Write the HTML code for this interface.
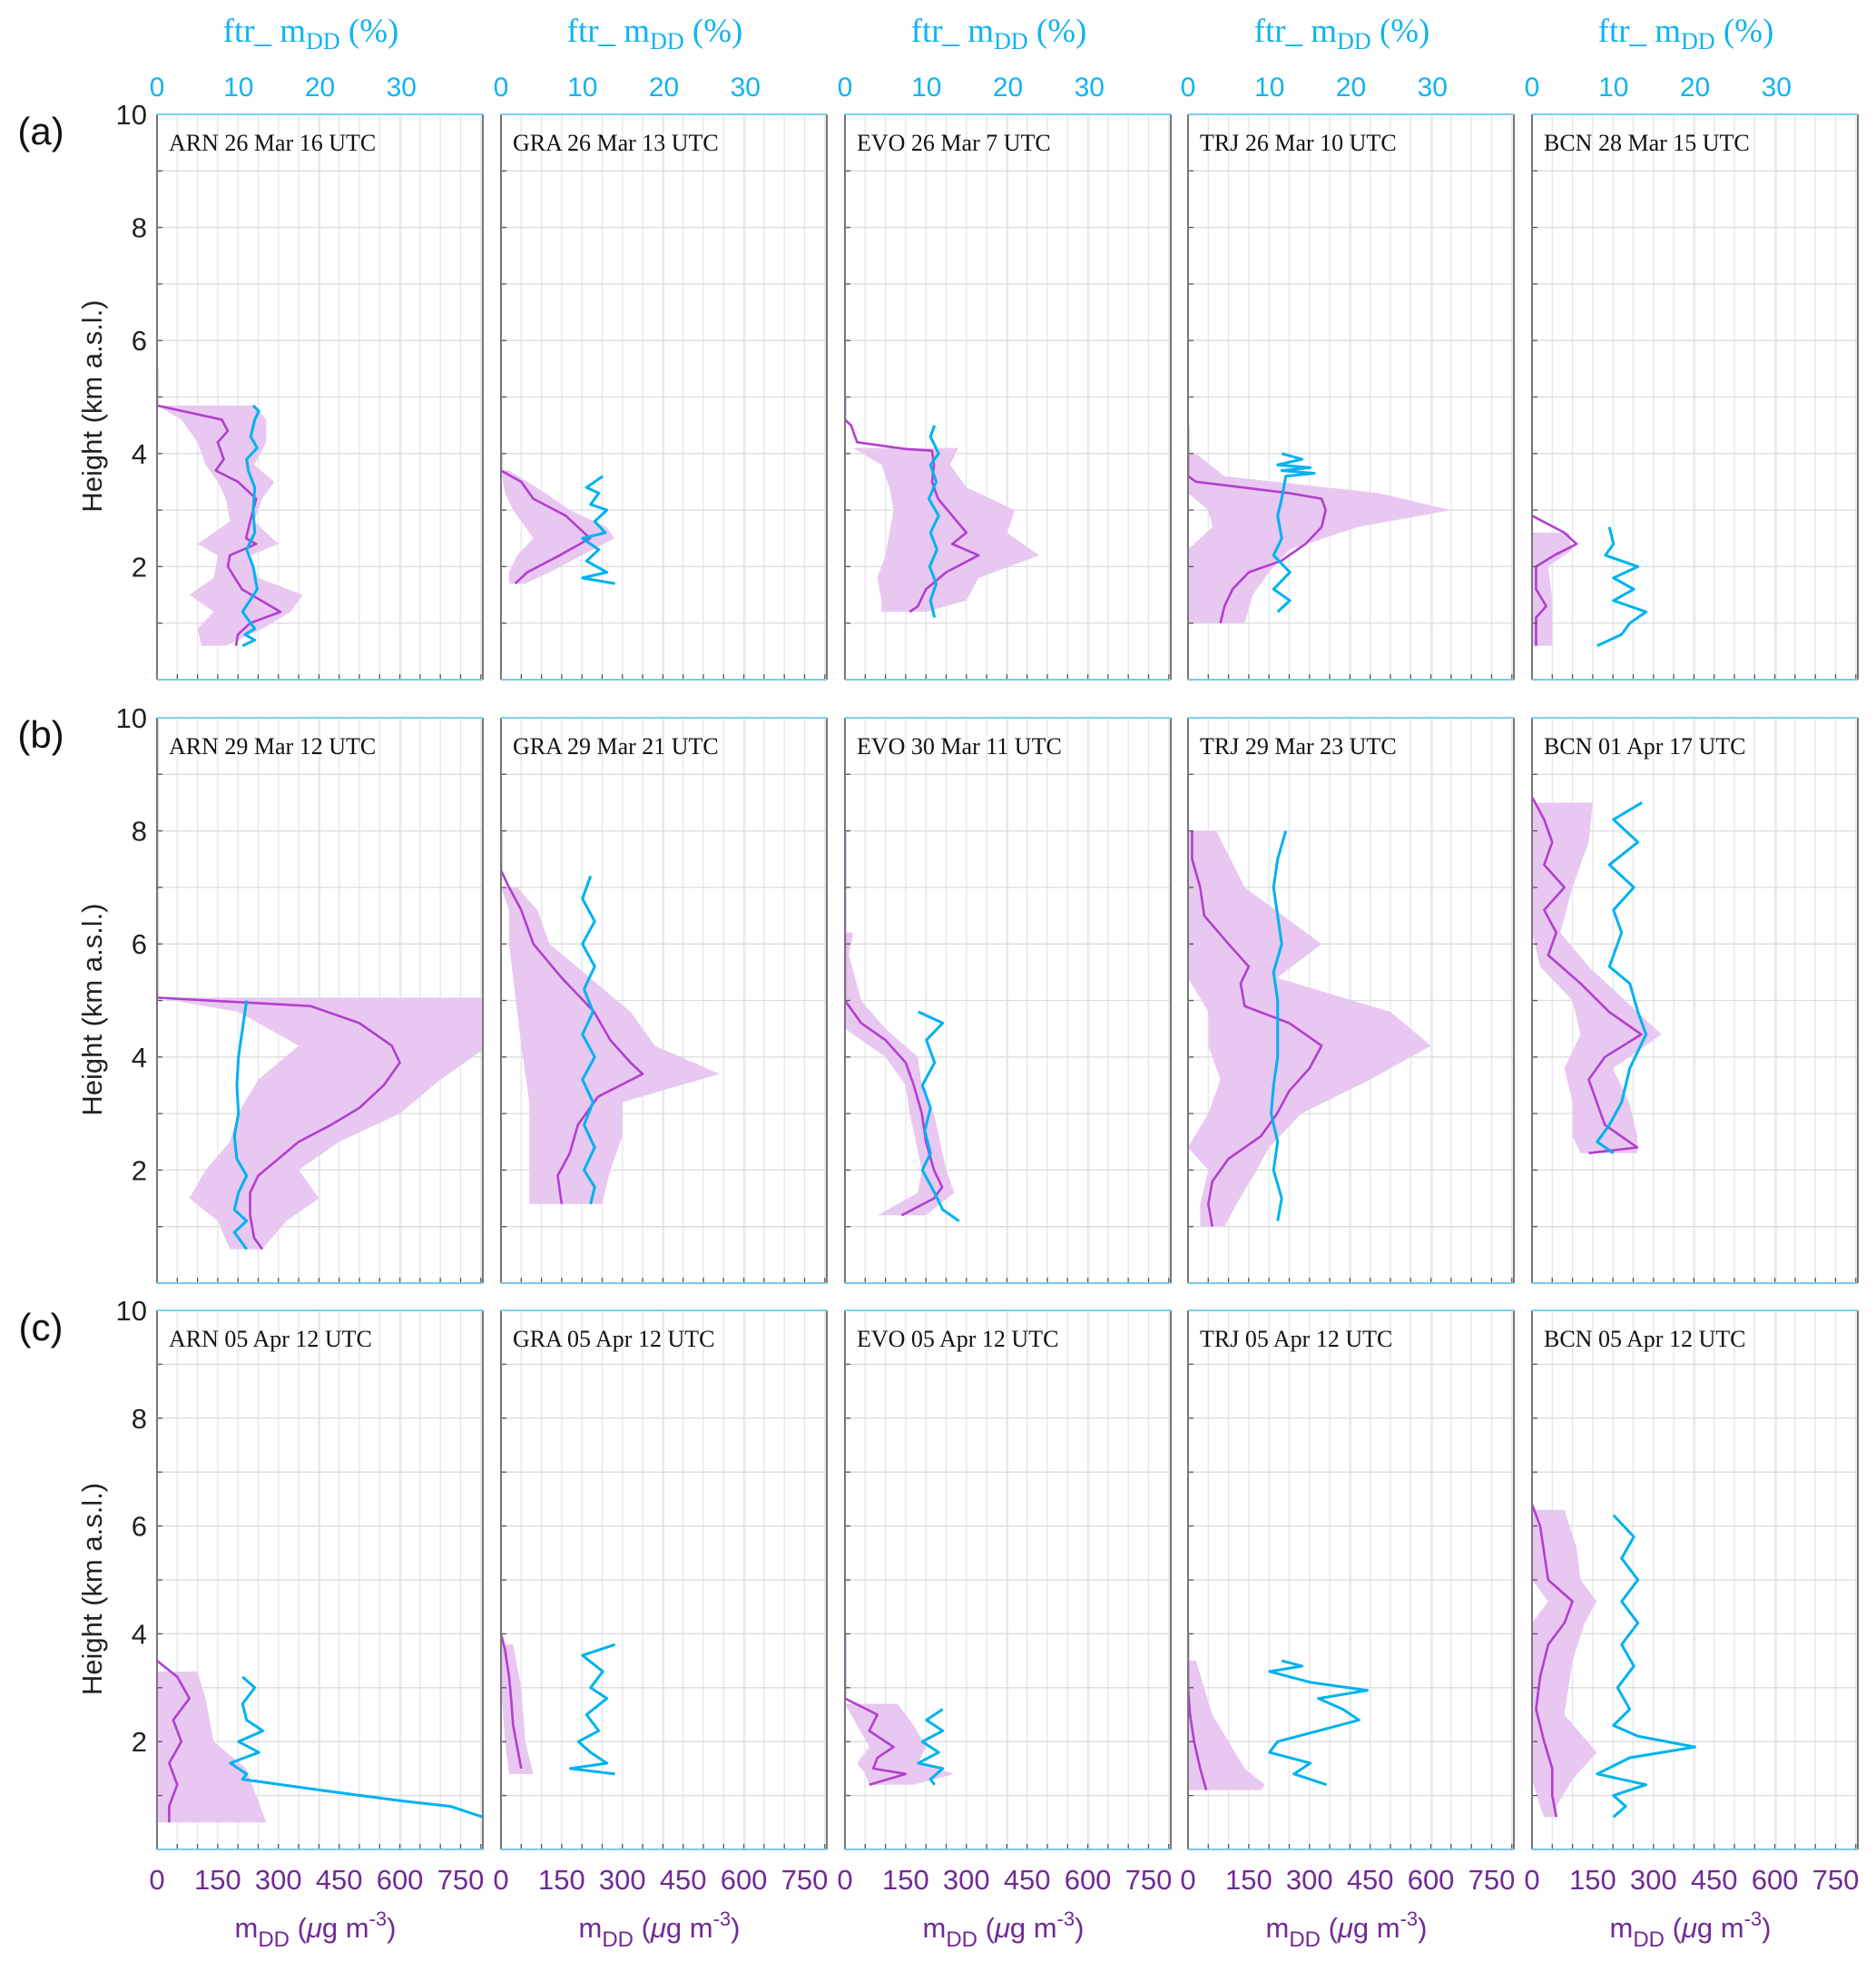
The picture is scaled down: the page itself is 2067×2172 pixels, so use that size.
<!DOCTYPE html>
<html><head><meta charset="utf-8"><style>
html,body{margin:0;padding:0;background:#fff;}
svg{display:block;}
</style></head><body>
<svg id="fig" xmlns="http://www.w3.org/2000/svg" width="2067" height="2172" viewBox="0 0 2067 2172"></svg>
<script>
// ---- data (height km, value) ----
const titles = [
 ["ARN 26 Mar 16 UTC","GRA 26 Mar 13 UTC","EVO 26 Mar 7 UTC","TRJ 26 Mar 10 UTC","BCN 28 Mar 15 UTC"],
 ["ARN 29 Mar 12 UTC","GRA 29 Mar 21 UTC","EVO 30 Mar 11 UTC","TRJ 29 Mar 23 UTC","BCN 01 Apr 17 UTC"],
 ["ARN 05 Apr 12 UTC","GRA 05 Apr 12 UTC","EVO 05 Apr 12 UTC","TRJ 05 Apr 12 UTC","BCN 05 Apr 12 UTC"]];
const rowLabels = ["(a)","(b)","(c)"];
const mddTicks = [0,150,300,450,600,750];
const ftrTicks = [0,10,20,30];
const heightTicks = [2,4,6,8,10];

// purple mass concentration profiles [height, mDD]
const mA = [
 [[5.5,0],[4.85,0],[4.6,160],[4.4,175],[4.2,150],[3.9,165],[3.7,145],[3.5,200],[3.2,245],[2.8,230],[2.5,220],[2.4,245],[2.2,180],[2.0,175],[1.6,210],[1.2,305],[1.0,230],[0.8,200],[0.6,195]],
 [[4.0,0],[3.7,0],[3.5,50],[3.2,80],[2.9,160],[2.6,205],[2.5,220],[2.2,145],[1.9,65],[1.7,35]],
 [[5.0,0],[4.6,0],[4.5,15],[4.2,30],[4.08,150],[4.05,215],[3.8,220],[3.5,215],[3.2,230],[2.9,265],[2.6,300],[2.4,265],[2.2,330],[1.9,250],[1.6,200],[1.3,180],[1.2,160]],
 [[4.5,0],[3.6,0],[3.5,20],[3.3,250],[3.2,330],[3.0,340],[2.7,330],[2.4,290],[2.1,230],[1.9,150],[1.6,110],[1.3,90],[1.0,80]],
 [[2.9,0],[2.6,80],[2.4,110],[2.2,55],[2.0,10],[1.6,10],[1.3,35],[1.1,10],[0.6,10]]];
const mB = [
 [[10,0],[5.1,0],[5.05,0],[4.9,380],[4.6,500],[4.2,580],[3.9,600],[3.5,560],[3.1,500],[2.8,430],[2.5,350],[2.2,300],[1.9,250],[1.6,230],[1.2,230],[0.8,240],[0.6,260]],
 [[8,0],[7.3,0],[7.0,20],[6.6,50],[6.0,80],[5.4,150],[4.8,230],[4.3,270],[3.9,320],[3.7,350],[3.3,240],[2.8,190],[2.3,170],[1.9,140],[1.4,150]],
 [[8,0],[5.0,0],[4.6,40],[4.3,100],[3.9,150],[3.5,170],[3.0,190],[2.5,200],[2.0,220],[1.7,240],[1.5,220],[1.2,140]],
 [[8,10],[7.5,10],[7.0,30],[6.5,40],[6.0,100],[5.6,150],[5.3,130],[4.9,140],[4.6,250],[4.2,330],[3.8,300],[3.4,250],[3.0,220],[2.6,180],[2.2,100],[1.8,60],[1.4,50],[1.0,60]],
 [[8.6,0],[8.2,30],[7.8,50],[7.4,30],[7.0,80],[6.6,30],[6.2,60],[5.8,40],[5.3,120],[4.8,190],[4.4,270],[4.0,180],[3.6,140],[3.2,160],[2.8,180],[2.4,260],[2.3,140]]];
const mC = [
 [[3.5,0],[3.2,50],[2.8,80],[2.4,40],[2.0,60],[1.6,30],[1.2,50],[0.8,30],[0.5,30]],
 [[4.0,0],[3.7,10],[3.2,20],[2.8,25],[2.3,30],[1.9,40],[1.5,50]],
 [[4.0,0],[2.8,0],[2.5,80],[2.2,60],[1.9,120],[1.7,80],[1.5,70],[1.4,150],[1.2,60]],
 [[4.0,0],[3.0,0],[2.5,5],[2.0,15],[1.5,30],[1.1,45]],
 [[6.4,0],[6.0,20],[5.5,30],[5.0,40],[4.6,100],[4.2,80],[3.8,40],[3.2,20],[2.6,10],[2.0,30],[1.5,50],[1.0,50],[0.6,60]]];

// shaded uncertainty [height, low, high] in mDD
const sA = [
 [[4.85,0,240],[4.6,60,270],[4.2,100,270],[3.8,120,240],[3.5,150,290],[3.2,170,260],[2.8,180,240],[2.4,100,300],[2.2,150,230],[1.8,140,250],[1.5,80,360],[1.2,140,330],[0.9,100,260],[0.6,110,170]],
 [[3.7,0,20],[3.3,10,110],[3.0,30,170],[2.7,60,260],[2.5,80,280],[2.2,40,200],[1.9,20,120],[1.7,20,60]],
 [[4.1,20,280],[3.8,90,260],[3.4,110,300],[3.0,120,420],[2.6,110,400],[2.2,100,480],[1.8,80,330],[1.4,90,300],[1.2,90,200]],
 [[4.0,0,20],[3.6,0,90],[3.3,0,470],[3.0,50,650],[2.7,60,420],[2.3,0,250],[1.9,0,200],[1.5,0,160],[1.0,0,140]],
 [[2.6,0,90],[2.3,0,100],[2.0,0,40],[1.4,0,50],[0.6,0,50]]];
const sB = [
 [[5.05,0,820],[4.8,200,820],[4.2,350,820],[3.6,250,700],[3.0,200,600],[2.5,180,450],[2.0,120,350],[1.5,80,400],[1.1,150,320],[0.6,180,260]],
 [[7.0,0,40],[6.6,20,90],[6.0,20,120],[5.4,30,220],[4.8,40,320],[4.2,50,380],[3.7,60,540],[3.2,70,300],[2.6,70,300],[2.0,70,270],[1.4,70,250]],
 [[6.2,0,20],[5.8,0,10],[5.0,0,40],[4.5,0,100],[4.0,100,180],[3.5,150,190],[3.0,160,220],[2.0,190,250],[1.6,180,270],[1.2,80,200]],
 [[8.0,0,70],[7.0,0,140],[6.0,0,330],[5.4,0,220],[4.8,50,500],[4.2,50,600],[3.6,80,450],[3.0,50,280],[2.4,0,200],[2.0,50,170],[1.4,30,120],[1.0,30,90]],
 [[8.5,0,150],[7.8,0,140],[7.0,0,100],[6.2,0,70],[5.6,20,140],[5.0,100,230],[4.4,120,320],[3.8,80,200],[3.2,100,240],[2.6,100,260],[2.3,120,260]]];
const sC = [
 [[3.3,0,100],[2.8,0,120],[2.0,0,140],[1.5,0,220],[0.5,0,270]],
 [[3.8,0,30],[3.0,0,50],[2.0,10,60],[1.4,20,80]],
 [[2.7,0,130],[2.3,30,170],[1.9,60,200],[1.6,30,180],[1.4,50,270],[1.2,60,170]],
 [[3.5,0,20],[2.5,0,60],[2.0,0,100],[1.5,0,140],[1.2,0,190],[1.1,0,180]],
 [[6.3,0,80],[5.6,0,110],[5.0,0,120],[4.6,40,160],[4.2,0,130],[3.5,0,100],[2.5,0,80],[1.8,0,160],[1.3,0,100],[0.8,20,60],[0.6,30,60]]];

// blue fraction profiles [height, ftr %]
const fA = [
 [[4.85,11.8],[4.75,12.5],[4.6,12],[4.3,11.5],[4.1,12.3],[3.9,11],[3.7,11.2],[3.4,12],[3.0,11.8],[2.6,12],[2.3,11],[2.0,11.8],[1.6,12.3],[1.2,10.5],[1.0,11.5],[0.9,12],[0.8,10.8],[0.7,12],[0.6,10.5]],
 [[3.6,12.5],[3.4,10.5],[3.3,12],[3.1,11],[3.0,13],[2.8,11.5],[2.6,12.8],[2.5,10],[2.3,12],[2.1,10.5],[1.9,13],[1.8,10],[1.7,14]],
 [[4.5,11],[4.3,10.5],[4.0,11.5],[3.8,10.5],[3.5,11.2],[3.2,10.3],[2.9,11.5],[2.6,10.5],[2.3,11.3],[2.0,10.4],[1.7,11.2],[1.4,10.5],[1.1,11]],
 [[4.0,11.5],[3.9,14],[3.8,11],[3.75,15],[3.7,11.5],[3.65,15.5],[3.6,12],[3.2,11.5],[2.9,11],[2.5,11.5],[2.2,10.5],[1.9,12.5],[1.6,10.5],[1.4,12.5],[1.2,11]],
 [[2.7,9.5],[2.4,10],[2.2,9],[2.0,13],[1.8,10],[1.6,12.5],[1.4,10],[1.2,14],[1.0,12],[0.8,11],[0.6,8]]];
const fB = [
 [[5.0,11],[4.5,10.5],[4.0,10],[3.5,9.8],[3.0,10],[2.6,9.5],[2.2,9.8],[1.9,11],[1.6,10],[1.3,9.5],[1.1,11],[0.9,9.5],[0.6,11]],
 [[7.2,11],[6.8,10],[6.4,11.5],[6.0,10],[5.6,11.5],[5.2,10.2],[4.8,11.3],[4.4,10],[4.0,11.5],[3.6,10],[3.2,11.3],[2.8,10.2],[2.4,11.5],[2.0,10.2],[1.7,11.5],[1.4,11]],
 [[4.8,9],[4.6,12],[4.3,10],[3.9,11],[3.5,9.5],[3.1,10.5],[2.7,9.8],[2.3,10.5],[2.0,9.5],[1.6,11],[1.3,12],[1.1,14]],
 [[8,12],[7.5,11],[7,10.5],[6.5,11],[6,11.5],[5.5,10.5],[5,11],[4.5,11],[4,11],[3.5,10.5],[3,10.2],[2.5,11],[2,10.5],[1.5,11.5],[1.1,11]],
 [[8.5,13.5],[8.2,10],[7.8,13],[7.4,9.5],[7.0,12.5],[6.6,10],[6.2,11],[5.6,9.5],[5.3,12],[4.8,13],[4.4,14],[3.8,12],[3.2,11],[2.8,9.5],[2.5,8],[2.3,10]]];
const fC = [
 [[3.2,10.5],[3.0,12],[2.7,10.5],[2.4,11],[2.2,13],[2.0,10],[1.8,12.5],[1.6,9],[1.4,11],[1.3,10.5],[1.1,20],[0.9,30],[0.8,36],[0.6,40]],
 [[3.8,14],[3.6,10],[3.3,12.5],[3.0,11],[2.8,13],[2.5,10.5],[2.2,12],[2.0,9.5],[1.8,11],[1.6,13],[1.5,8.5],[1.4,14]],
 [[2.6,12],[2.4,10],[2.2,12],[2.0,9.5],[1.8,11.5],[1.6,9],[1.5,12],[1.3,10.5],[1.2,11]],
 [[3.5,11.5],[3.4,14],[3.3,10],[3.1,15],[2.95,22],[2.8,16],[2.6,19],[2.4,21],[2.2,16],[2.0,11],[1.8,10],[1.6,15],[1.4,13],[1.2,17]],
 [[6.2,10],[5.8,12.5],[5.4,11],[5.0,13],[4.6,11],[4.2,13],[3.8,11],[3.4,12.5],[3.0,10.5],[2.6,12],[2.3,10],[2.1,13],[1.9,20],[1.7,12],[1.4,8],[1.2,14],[1.0,10],[0.8,11.5],[0.6,10]]];

const mAll=[mA,mB,mC], sAll=[sA,sB,sC], fAll=[fA,fB,fC];

// ---- layout ----
const NS="http://www.w3.org/2000/svg";
const svg=document.getElementById('fig');
const colLeft=[173,552,931,1309,1688], colW=359;
const rowTop=[126,791,1444], rowH=[623,623,594];
const MMAX=805, FMAX=40;
const PURPLE="#b23ed0", FILL="#e8c8f0", BLUE="#00b2f0", TXTP="#702a96", TXTB="#10b4f0";
function el(tag,attrs,parent){const e=document.createElementNS(NS,tag);for(const k in attrs)e.setAttribute(k,attrs[k]);(parent||svg).appendChild(e);return e;}
function txt(s,x,y,size,fill,fam,anchor,parent){const t=el('text',{x:x,y:y,'font-size':size,fill:fill,'font-family':fam,'text-anchor':anchor||'middle'},parent);t.textContent=s;return t;}
const SANS='"Liberation Sans", sans-serif', SERIF='"Liberation Serif", serif';

for(let r=0;r<3;r++){
  const y0=rowTop[r], h=rowH[r];
  const ys=v=>y0+h-v/10*h;
  const rl=txt(rowLabels[r],45,y0+33,42,'#111',SANS);
  
  
  for(const t of heightTicks){
    const tl=txt(String(t),162,ys(t)+11,31,'#222',SANS,'end');
    
    
  }
  const yt=el('text',{transform:`translate(112,${y0+h/2+10}) rotate(-90)`,'font-size':31,fill:'#222','font-family':SANS,'text-anchor':'middle'});
  yt.textContent='Height (km a.s.l.)';
  
  
  for(let c=0;c<5;c++){
    const x0=colLeft[c];
    const xm=v=>x0+v/MMAX*colW;
    const xf=v=>x0+v/FMAX*colW;
    const g=el('g',{});
    
    
    const cid='clip'+r+c;
    const cp=el('clipPath',{id:cid},g);el('rect',{x:x0,y:y0,width:colW,height:h},cp);
    for(let v=50;v<MMAX;v+=50) el('line',{x1:xm(v),x2:xm(v),y1:y0,y2:y0+h,stroke:'#e6e2ea','stroke-width':1.3},g);
    for(let v=10;v<FMAX;v+=10) el('line',{x1:xf(v),x2:xf(v),y1:y0,y2:y0+h,stroke:'#dcf1f9','stroke-width':1.3},g);
    for(let k=1;k<10;k++) el('line',{x1:x0,x2:x0+colW,y1:ys(k),y2:ys(k),stroke:'#dcdcdc','stroke-width':1.3},g);
    const pg=el('g',{'clip-path':`url(#${cid})`},g);
    const s=sAll[r][c];
    let pts=s.map(p=>xm(p[2])+','+ys(p[0])).concat(s.slice().reverse().map(p=>xm(p[1])+','+ys(p[0])));
    const fp=el('polygon',{points:pts.join(' '),fill:FILL,stroke:'none'},pg);
    
    
    const m=mAll[r][c];
    const pl=el('polyline',{points:m.map(p=>xm(p[1])+','+ys(p[0])).join(' '),fill:'none',stroke:PURPLE,'stroke-width':2.6,'stroke-linejoin':'round'},pg);
    
    
    const f=fAll[r][c];
    const bl=el('polyline',{points:f.map(p=>xf(p[1])+','+ys(p[0])).join(' '),fill:'none',stroke:BLUE,'stroke-width':3,'stroke-linejoin':'round'},pg);
    
    
    for(let v=50;v<MMAX;v+=50) el('line',{x1:xm(v),x2:xm(v),y1:y0+h,y2:y0+h-6,stroke:'#555','stroke-width':1.3},g);
    for(let k=1;k<10;k++) el('line',{x1:x0,x2:x0+6,y1:ys(k),y2:ys(k),stroke:'#555','stroke-width':1.3},g);
    el('line',{x1:x0,x2:x0,y1:y0,y2:y0+h,stroke:'#777','stroke-width':2},g);
    el('line',{x1:x0+colW,x2:x0+colW,y1:y0,y2:y0+h,stroke:'#777','stroke-width':2},g);
    el('line',{x1:x0,x2:x0+colW,y1:y0,y2:y0,stroke:'#7cd0f0','stroke-width':2},g);
    el('line',{x1:x0,x2:x0+colW,y1:y0+h,y2:y0+h,stroke:'#7cc8e8','stroke-width':2},g);
    const tt=txt(titles[r][c],x0+13,y0+40,26,'#111',SERIF,'start',g);
    
    
    if(r===0){
      for(const t of ftrTicks){
        const l=txt(String(t),xf(t),106,30,TXTB,SANS,'middle');
        
        
      }
      const ft=el('text',{x:x0+colW/2-10,y:46,'font-size':37,fill:TXTB,'font-family':SERIF,'text-anchor':'middle'});
      ft.innerHTML='ftr_ m<tspan font-size="26" dy="8">DD</tspan><tspan dy="-8"> (%)</tspan>';
      
      
    }
    if(r===2){
      for(const t of mddTicks){
        const l=txt(String(t),xm(t),2082,31,TXTP,SANS,'middle');
        
        
      }
      const mt=el('text',{x:x0+colW/2-5,y:2135,'font-size':31,fill:TXTP,'font-family':SANS,'text-anchor':'middle'});
      mt.innerHTML='m<tspan font-size="24" dy="10">DD</tspan><tspan dy="-10"> (</tspan><tspan font-style="italic">μ</tspan>g m<tspan font-size="22" dy="-13">-3</tspan><tspan dy="13">)</tspan>';
      
      
    }
  }
}
</script>
</body></html>
